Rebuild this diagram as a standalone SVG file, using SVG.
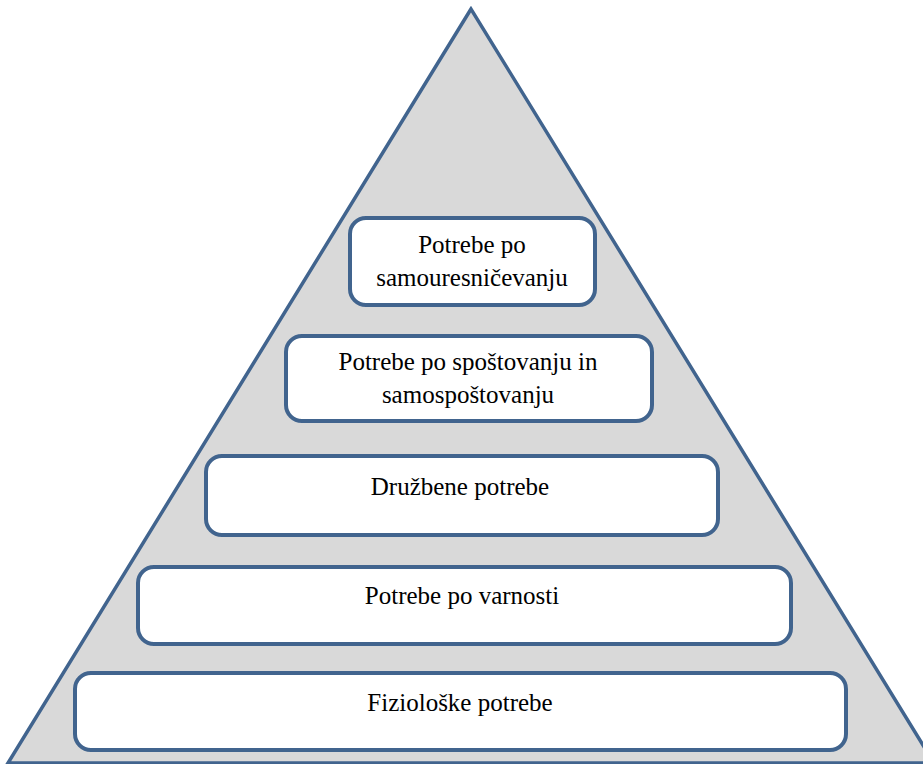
<svg xmlns="http://www.w3.org/2000/svg" width="923" height="764" viewBox="0 0 923 764">
<style>
.tri{fill:#D9D9D9;stroke:#41648E;stroke-width:3.5;stroke-linejoin:miter}
.box{fill:#FFFFFF;stroke:#41648E;stroke-width:4}
.t{font-family:"Liberation Serif","Times New Roman",serif;font-size:25px;fill:#000;text-anchor:middle}
</style>
<rect width="923" height="764" fill="#FFFFFF"/>
<g id="pyramid">
<polygon class="tri" points="471,9 8,763 934,763"/>
</g>
<g id="node-samouresnicevanje">
<rect class="box" x="350" y="218" width="245" height="87" rx="16"/>
<text class="t" x="472" y="253">Potrebe po</text>
<text class="t" x="472" y="286">samouresničevanju</text>
</g>
<g id="node-spostovanje">
<rect class="box" x="286" y="336" width="366" height="85" rx="16"/>
<text class="t" x="468" y="370">Potrebe po spoštovanju in</text>
<text class="t" x="468" y="403">samospoštovanju</text>
</g>
<g id="node-druzbene">
<rect class="box" x="206" y="456" width="512" height="79" rx="16"/>
<text class="t" x="460" y="495">Družbene potrebe</text>
</g>
<g id="node-varnost">
<rect class="box" x="138" y="567" width="653" height="77" rx="16"/>
<text class="t" x="462" y="604">Potrebe po varnosti</text>
</g>
<g id="node-fizioloske">
<rect class="box" x="75" y="673" width="771" height="77" rx="16"/>
<text class="t" x="460" y="711">Fiziološke potrebe</text>
</g>
<g id="connectors"/>
</svg>
